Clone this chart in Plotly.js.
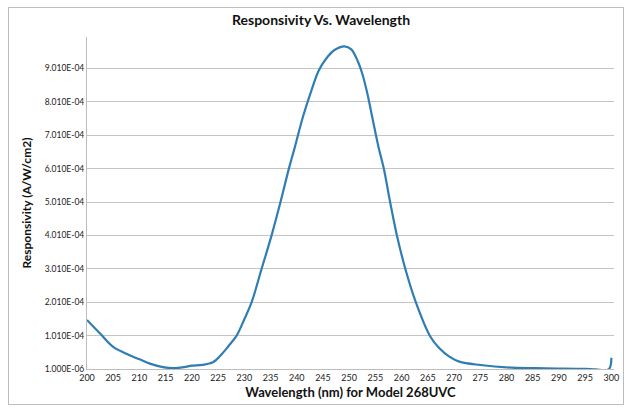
<!DOCTYPE html>
<html>
<head>
<meta charset="utf-8">
<script src="https://cdn.plot.ly/plotly-3.0.1.min.js"></script>
<style>
  html, body { margin: 0; padding: 0; background: #ffffff; }
  #wrap { position: relative; width: 627px; height: 411px; }
  #chart { width: 627px; height: 411px; }
  #frame { position: absolute; left: 8px; top: 7px; width: 616px; height: 398px;
           border: 1px solid #bdbdbd; pointer-events: none; box-sizing: border-box; }
</style>
</head>
<body>
<div id="wrap">
  <div id="chart"></div>
  <div id="frame"></div>
</div>
<script>
// Wavelength (nm)
const wavelength = [200, 202.5, 205, 208, 210, 212, 214.5, 216.5, 218.5, 220, 222, 224, 225.5, 227, 228.5, 230, 231.4, 233.3, 235.2, 236.9, 238.5, 239.6, 241.2, 242.9, 244.2, 245.6, 247.2, 249.1, 250.4, 251.7, 252.5, 253.4, 254.4, 255.6, 256.6, 257.8, 259.1, 260.7, 262.7, 265.4, 267.2, 269.1, 271, 275, 281, 287.5, 295, 297, 299.5, 300];
// Responsivity (A/W/cm2)
const responsivity = [1.48e-4, 1.07e-4, 6.7e-5, 4.3e-5, 3.0e-5, 1.7e-5, 6.5e-6, 3.5e-6, 6.5e-6, 1.1e-5, 1.35e-5, 2.1e-5, 4.2e-5, 7.0e-5, 1.0e-4, 1.5e-4, 2.01e-4, 3.01e-4, 4.01e-4, 5.01e-4, 6.01e-4, 6.63e-4, 7.57e-4, 8.4e-4, 8.95e-4, 9.3e-4, 9.56e-4, 9.67e-4, 9.58e-4, 9.2e-4, 8.85e-4, 8.3e-4, 7.55e-4, 6.65e-4, 6.01e-4, 5.01e-4, 4.01e-4, 3.01e-4, 2.01e-4, 1.0e-4, 6.3e-5, 3.8e-5, 2.3e-5, 1.3e-5, 5e-6, 3e-6, 1.5e-6, 0, 0, 3.5e-5];

const xTickVals = [200, 205, 210, 215, 220, 225, 230, 235, 240, 245, 250, 255, 260, 265, 270, 275, 280, 285, 290, 295, 300];
const yTickVals = [1e-6, 1.01e-4, 2.01e-4, 3.01e-4, 4.01e-4, 5.01e-4, 6.01e-4, 7.01e-4, 8.01e-4, 9.01e-4];
const yTickText = ["1.000E-06", "1.010E-04", "2.010E-04", "3.010E-04", "4.010E-04", "5.010E-04", "6.010E-04", "7.010E-04", "8.010E-04", "9.010E-04"];

const trace = {
  x: wavelength,
  y: responsivity,
  type: 'scatter',
  mode: 'lines',
  line: { color: '#2f7db3', width: 2.2, shape: 'spline', smoothing: 1.0 },
  hoverinfo: 'x+y'
};

const layout = {
  width: 627, height: 411,
  margin: { l: 87, r: 13, t: 37, b: 42, pad: 0 },
  paper_bgcolor: '#ffffff',
  plot_bgcolor: '#ffffff',
  showlegend: false,
  font: { family: 'Lato, "Open Sans", sans-serif', color: '#222' },
  title: {
    text: '<b>Responsivity Vs. Wavelength</b>',
    font: { size: 14, color: '#111', family: 'Lato, "Open Sans", sans-serif' },
    x: 0.512, xanchor: 'center', y: 0.95, yanchor: 'middle'
  },
  xaxis: {
    range: [200, 300.5],
    tickmode: 'array',
    tickvals: xTickVals,
    ticktext: xTickVals.map(String),
    showgrid: false,
    zeroline: false,
    showline: true, linecolor: '#bdbdbd', linewidth: 1,
    ticks: '', ticklen: 0,
    tickfont: { size: 9, color: '#222', family: 'Lato, "Open Sans", sans-serif' },
    title: {
      text: '<b>Wavelength (nm) for Model 268UVC</b>',
      font: { size: 13, color: '#111' },
      standoff: 6
    },
    fixedrange: true
  },
  yaxis: {
    range: [1e-6, 9.95e-4],
    tickmode: 'array',
    tickvals: yTickVals,
    ticktext: yTickText,
    showgrid: true, gridcolor: '#c4c4c4', gridwidth: 1,
    zeroline: false,
    showline: true, linecolor: '#bdbdbd', linewidth: 1,
    ticks: '', ticklen: 0,
    tickfont: { size: 8.5, color: '#222', family: 'Lato, "Open Sans", sans-serif' },
    title: {
      text: '<b>Responsivity (A/W/cm2)</b>',
      font: { size: 12, color: '#111' },
      standoff: 10
    },
    fixedrange: true
  }
};

Plotly.newPlot('chart', [trace], layout, { displayModeBar: false, staticPlot: true });
</script>
</body>
</html>
